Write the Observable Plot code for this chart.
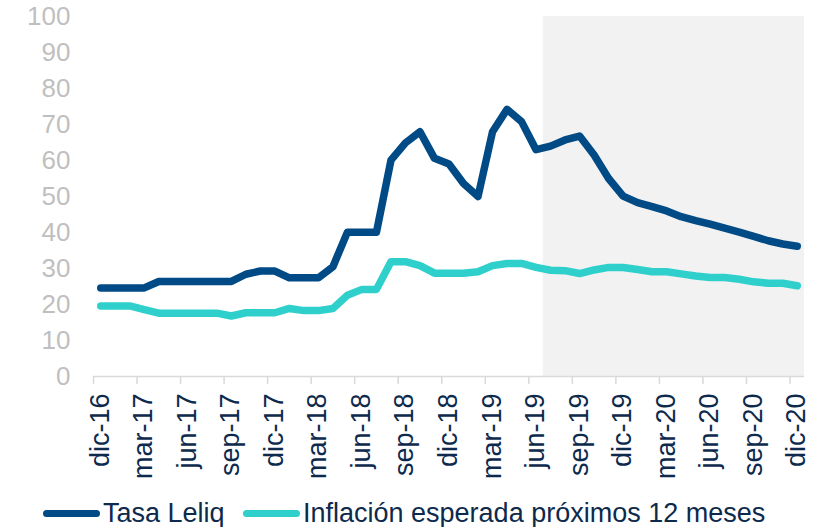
<!DOCTYPE html>
<html><head><meta charset="utf-8">
<script src="https://cdn.jsdelivr.net/npm/d3@7"></script>
<script src="https://cdn.jsdelivr.net/npm/@observablehq/plot@0.6"></script>
<style>
body{margin:0;background:#fff;font-family:"Liberation Sans",Arial,sans-serif;}
#legend{position:relative;height:37px;}
.sw{position:absolute;top:20px;height:7px;border-radius:4px;}
.lt{position:absolute;top:8px;font-size:27px;line-height:30px;color:#0d2a4d;white-space:nowrap;}
</style>
</head><body>
<div id="chart"></div>
<div id="legend">
  <span class="sw" style="left:43px;width:57px;background:#004a85"></span>
  <span class="lt" style="left:103px">Tasa Leliq</span>
  <span class="sw" style="left:243px;width:57px;background:#2fd0cc"></span>
  <span class="lt" style="left:303px">Inflación esperada próximos 12 meses</span>
</div>
<script>
const months = ["dic-16","ene-17","feb-17","mar-17","abr-17","may-17","jun-17","jul-17","ago-17","sep-17","oct-17","nov-17",
"dic-17","ene-18","feb-18","mar-18","abr-18","may-18","jun-18","jul-18","ago-18","sep-18","oct-18","nov-18",
"dic-18","ene-19","feb-19","mar-19","abr-19","may-19","jun-19","jul-19","ago-19","sep-19","oct-19","nov-19",
"dic-19","ene-20","feb-20","mar-20","abr-20","may-20","jun-20","jul-20","ago-20","sep-20","oct-20","nov-20","dic-20"];
const leliq = [24.6,24.6,24.6,24.6,26.4,26.4,26.4,26.4,26.4,26.4,28.4,29.3,29.3,27.4,27.4,27.4,30.5,40.1,40.1,40.1,
60.1,64.9,68.0,60.6,59.0,53.6,50.0,68.0,74.2,70.8,63.0,64.0,65.7,66.8,61.5,55.0,50.1,48.3,47.2,46.0,
44.4,43.3,42.3,41.2,40.1,38.9,37.7,36.8,36.2];
const inflacion = [19.6,19.6,19.6,18.6,17.6,17.6,17.6,17.6,17.6,16.8,17.7,17.7,17.7,18.9,18.3,18.3,18.9,22.6,24.2,24.2,
31.9,31.9,30.8,28.7,28.7,28.7,29.1,30.8,31.4,31.4,30.3,29.5,29.4,28.6,29.6,30.3,30.3,29.7,29.1,29.1,
28.5,27.9,27.5,27.5,27.0,26.3,25.9,25.9,25.2];
const yTicks = [0,10,20,30,40,50,60,70,80,90,100];
const labelMonths = ["dic-16","mar-17","jun-17","sep-17","dic-17","mar-18","jun-18","sep-18","dic-18","mar-19","jun-19","sep-19","dic-19","mar-20","jun-20","sep-20","dic-20"];
const shadeFrom = "jul-19", shadeTo = "dic-20";

const idx = d3.range(months.length);
const labelIdx = labelMonths.map(m => months.indexOf(m));
const shade = [{x1: months.indexOf(shadeFrom) - 0.5, x2: months.indexOf(shadeTo) + 0.5, y1: 0, y2: 100}];

const chart = Plot.plot({
  width: 825, height: 490,
  marginLeft: 93, marginRight: 21, marginTop: 16, marginBottom: 114,
  style: {fontFamily: "'Liberation Sans', Arial, sans-serif", fontSize: "26px", background: "#fff"},
  x: {type: "linear", domain: [-0.5, months.length - 0.5], axis: null, label: null},
  y: {domain: [0, 100], axis: null, label: null},
  marks: [
    Plot.rect(shade, {x1: "x1", x2: "x2", y1: "y1", y2: "y2", fill: "#f2f2f2"}),
    Plot.axisY(yTicks, {tickSize: 0, tickPadding: 23, fill: "#bfbfbf", fontSize: 26, label: null}),
    Plot.ruleY([0], {stroke: "#d9d9d9", strokeWidth: 1.5}),
    Plot.axisX(labelIdx.map(i => i - 0.5), {tickSize: 8, tickFormat: () => "", stroke: "#d9d9d9", strokeWidth: 1.5, label: null}),
    Plot.text(labelIdx, {x: d => d, frameAnchor: "bottom", text: d => months[d], rotate: -90, textAnchor: "end", dy: 17, dx: 8, fill: "#0d2a4d", fontSize: 27}),
    Plot.line(idx, {x: d => d, y: d => leliq[d], stroke: "#004a85", strokeWidth: 7.5, strokeLinecap: "round", strokeLinejoin: "round"}),
    Plot.line(idx, {x: d => d, y: d => inflacion[d], stroke: "#2fd0cc", strokeWidth: 7.5, strokeLinecap: "round", strokeLinejoin: "round"})
  ]
});
document.getElementById("chart").appendChild(chart);
</script>
</body></html>
